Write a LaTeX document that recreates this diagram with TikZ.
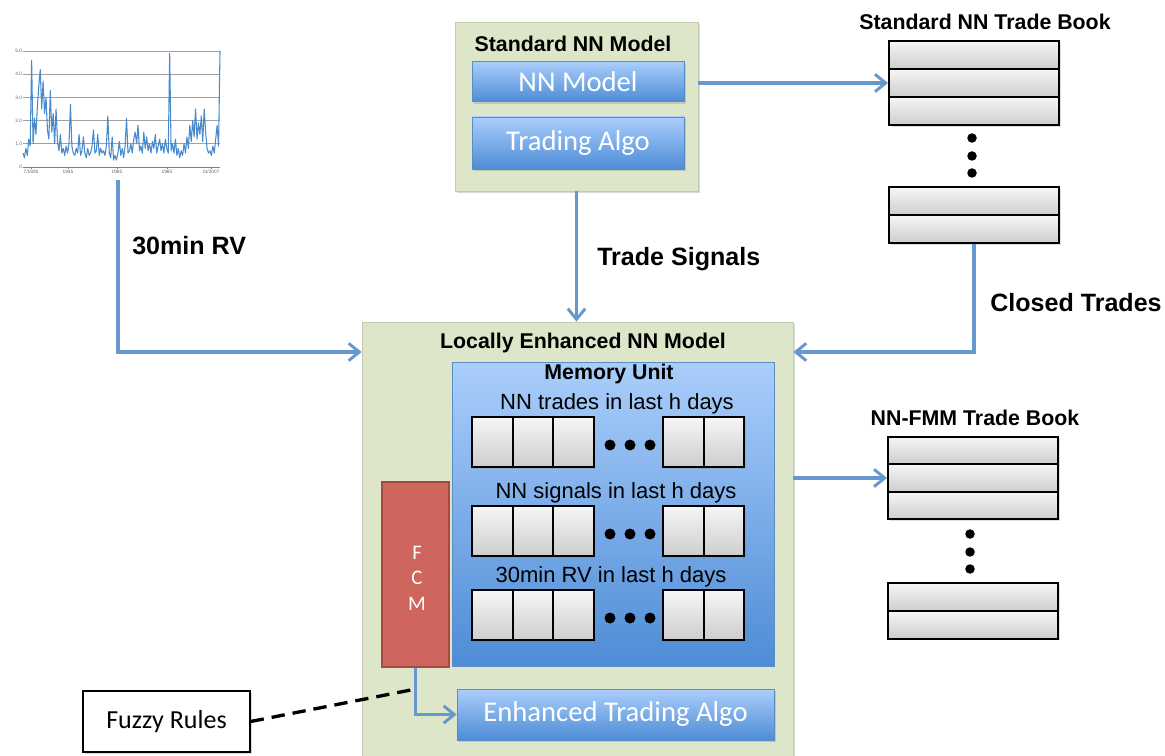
\documentclass[tikz,border=0pt]{standalone}
\usepackage{fontspec}
\setmainfont{Liberation Sans}
\newfontfamily\calib{Carlito}
\usetikzlibrary{arrows.meta,shadows,calc}

\definecolor{panelgreen}{RGB}{221,230,201}
\definecolor{btntop}{RGB}{170,206,251}
\definecolor{btnbot}{RGB}{78,140,214}
\definecolor{btnedge}{RGB}{90,140,200}
\definecolor{flowblue}{RGB}{102,152,205}
\definecolor{fcmred}{RGB}{206,102,94}
\definecolor{fcmedge}{RGB}{168,72,64}
\definecolor{celltop}{RGB}{246,246,246}
\definecolor{cellbot}{RGB}{205,205,205}
\definecolor{plotblue}{RGB}{72,138,204}
\definecolor{gridgray}{RGB}{160,160,160}

\tikzset{
  sz/.style 2 args={minimum width={#1*0.75pt},minimum height={#2*0.75pt},inner sep=0pt},
  softshadow/.style={drop shadow={opacity=0.3,shadow xshift=1.8pt,shadow yshift=-1.8pt}},
  panel/.style={fill=panelgreen,draw=panelgreen!88!black,line width=0.5pt,softshadow},
  button/.style={top color=btntop,bottom color=btnbot,draw=btnedge,line width=0.6pt,
    softshadow,text=white,font=\calib\fontsize{21.5}{25}\selectfont},
  cell/.style={top color=celltop,bottom color=cellbot,draw=black,line width=1.5pt,
    drop shadow={opacity=0.25,shadow xshift=1.2pt,shadow yshift=-1.2pt}},
  heading/.style={font=\bfseries\fontsize{16}{19}\selectfont,inner sep=0pt},
  biglabel/.style={font=\bfseries\fontsize{18.8}{22}\selectfont,inner sep=0pt,anchor=west},
  rowlabel/.style={font=\fontsize{16.5}{19}\selectfont,inner sep=0pt},
  flow/.style={draw=flowblue,line width=2.4pt,
    -{Straight Barb[length=8pt,width=13pt,line width=2.2pt]}},
  bigdot/.style={circle,fill=black,inner sep=0pt,minimum size={#1*0.75pt}},
  ticklab/.style={font=\fontsize{3.6}{4}\selectfont,text=black!60,inner sep=0.6pt},
}

\begin{document}
\begin{tikzpicture}[x=0.75pt,y=-0.75pt]
\useasboundingbox (0,0) rectangle (1165,756);

% ---------- volatility chart ----------
\foreach \g/\lab [count=\k] in {51/5.0,74.2/4.0,97.4/3.0,120.6/2.0,143.8/1.0} {
  \draw[gridgray,line width=0.5pt] (23,\g) -- (220,\g);
  \node[ticklab,anchor=east] (ytick\k) at (23,\g) {\lab};
}
\draw[gridgray!80!black,line width=0.5pt] (23,167) -- (220,167);
\node[ticklab,anchor=east] (ytick6) at (23,167) {0};
\foreach \tx/\lab [count=\k] in {31/7\slash 1926,68/1945,117/1965,167/1985,211/11\slash 2007} {
  \draw[gridgray!80!black,line width=0.4pt] (\tx,167) -- (\tx,169);
  \node[ticklab,anchor=north] (xtick\k) at (\tx,169) {\lab};
}
\draw[plotblue,line width=0.8pt,line join=round]
  (23,{167-23.2*0.6})
  \foreach \v [count=\i] in {0.4,0.8,0.5,1.2,0.9,4.6,1.0,2.1,1.4,2.6,
    3.5,4.2,2.5,3.7,2.3,3.0,1.6,1.2,3.3,1.5,
    2.3,1.0,2.5,1.1,0.7,1.4,0.6,0.8,0.5,0.9,
    0.6,1.0,2.7,0.9,0.6,0.5,0.8,0.6,1.4,0.5,
    0.7,1.3,0.6,0.4,0.8,0.5,0.6,0.9,1.6,0.6,
    0.7,1.4,0.5,0.8,0.6,0.7,0.5,0.9,2.2,0.6,
    0.4,1.3,0.3,0.5,0.3,0.6,1.1,0.5,0.8,0.4,
    0.9,2.1,0.6,0.7,1.0,0.6,1.2,1.5,1.0,1.8,
    0.7,0.9,0.6,1.5,0.8,1.3,0.7,1.0,0.6,1.1,
    0.8,1.4,0.6,0.9,1.2,0.7,1.0,0.6,1.2,0.8,
    0.6,4.9,0.7,1.0,0.6,1.2,0.5,0.8,0.4,0.7,
    0.5,1.0,0.6,1.3,0.8,1.8,1.1,2.0,1.3,2.5,
    1.2,1.9,1.4,2.2,1.1,2.5,1.5,0.8,0.6,0.7,
    0.5,0.9,0.6,1.2,1.8,0.9,5.0}
  { -- ({23+\i*1.438},{167-23.2*\v}) };
\coordinate (rvsrc) at (118,180);

% ---------- standard NN model ----------
\node[panel,sz={243}{169}] (stdm) at (576.5,106.5) {};
\node[heading] (stdtitle) at (573,44) {Standard NN Model};
\node[button,sz={212}{40}] (nnm) at (578,81.5) {NN Model};
\node[button,sz={212}{52}] (talgo) at (578,143) {Trading Algo};

% ---------- standard NN trade book ----------
\node[heading] (sbtitle) at (985,22) {Standard NN Trade Book};
\foreach \yy [count=\k] in {55,83,111,201.5,229}
  \node[cell,sz={170}{28}] (sb\k) at (974,\yy) {};
\foreach \yy [count=\k] in {138,156,173}
  \node[bigdot=9.5] (sbdot\k) at (972,\yy) {};

% ---------- locally enhanced NN model ----------
\node[panel,sz={431}{470}] (loc) at (577.5,557) {};
\node[heading] (loctitle) at (583,343) {Locally Enhanced NN Model};

\node[top color=btntop,bottom color=btnbot,draw=btnedge,line width=0.6pt,sz={322}{304}] (mem) at (613,514) {};
\node[heading] (memtitle) at (609,374) {Memory Unit};
\node[rowlabel] (lab1) at (617,404) {NN trades in last h days};
\node[rowlabel] (lab2) at (616,493) {NN signals in last h days};
\node[rowlabel] (lab3) at (611,577) {30min RV in last h days};
\foreach \yy [count=\r] in {442,531,615} {
  \foreach \xx [count=\c] in {492.25,532.75,573.25,683.25,723.75}
    \node[cell,sz={40.5}{50}] (m\r c\c) at (\xx,\yy) {};
  \foreach \xx [count=\d] in {610,630,650}
    \node[bigdot=11] (m\r d\d) at (\xx,\yy+3) {};
}

\node[fill=fcmred,draw=fcmedge,line width=1.6pt,sz={67}{185}] (fcm) at (415.5,574.5) {};
\node[text=white,align=center,font=\calib\fontsize{15.5}{19.2}\selectfont,inner sep=0pt] (fcmtxt) at (417,578) {F\\C\\M};

\node[button,sz={317}{51}] (eta) at (615.5,714.5) {Enhanced Trading Algo};

% ---------- NN-FMM trade book ----------
\node[heading] (fbtitle) at (975,418) {NN-FMM Trade Book};
\foreach \yy [count=\k] in {450.5,478,505.5,597,625}
  \node[cell,sz={170}{27.5}] (fb\k) at (973,\yy) {};
\foreach \yy [count=\k] in {534,552,569}
  \node[bigdot=9.5] (fbdot\k) at (970,\yy) {};

% ---------- fuzzy rules ----------
\node[draw=black,fill=white,line width=1pt,sz={167}{61},softshadow,
      font=\calib\fontsize{19.5}{23}\selectfont] (fuzzy) at (166.5,721.5) {Fuzzy Rules};

% ---------- connectors ----------
\coordinate (joinrow) at (0,352);
\draw[flow] (rvsrc) |- (loc.west |- joinrow);
\draw[flow] (stdm.south) -- (stdm.south |- loc.north);
\draw[flow] (stdm.east |- sb2.west) -- (sb2.west);
\draw[flow] (sb5.south) |- (loc.east |- joinrow);
\draw[flow] (loc.east |- fb2.west) -- (fb2.west);
\draw[flow,line width=2pt] (fcm.south) |- (eta.west);
\coordinate (fcmtap) at ($(fcm.south)+(0,21)$);
\draw[black,line width=2.5pt,dash pattern=on 10pt off 6pt] (fuzzy.east) -- (fcmtap);

% ---------- flow labels ----------
\node[biglabel] (rvlab) at (132,246) {30min RV};
\node[biglabel] (siglab) at (597,259) {Trade Signals};
\node[biglabel] (closedlab) at (990,303) {Closed Trades};
\end{tikzpicture}
\end{document}
